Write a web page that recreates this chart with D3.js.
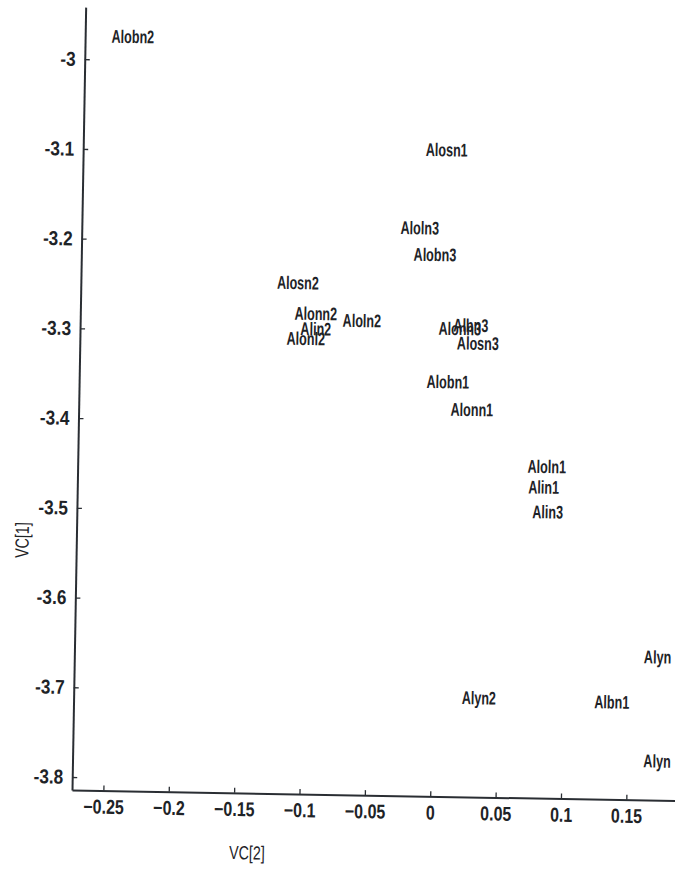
<!DOCTYPE html>
<html>
<head>
<meta charset="utf-8">
<script src="https://cdn.jsdelivr.net/npm/d3@7"></script>
<style>
  html, body { margin: 0; padding: 0; background: #fff; }
  svg text { font-family: "Liberation Sans", Arial, sans-serif; fill: #1e2327; }
</style>
</head>
<body>
<svg id="chart" width="675" height="878"></svg>
<script>
// Sample labels and their coordinates on the first two components
const labels = ["Alobn2", "Alosn1", "Aloln3", "Alobn3", "Alosn2", "Alonn2", "Aloln2", "Alin2", "Alonl2",
                "Alonn3", "Albn3", "Alosn3", "Alobn1", "Alonn1", "Aloln1", "Alin1", "Alin3",
                "Alyn2", "Albn1", "Alyn", "Alyn"];
const vc2 = [-0.2375, 0.004, -0.0155, -0.0036, -0.108, -0.0939, -0.0586, -0.0937, -0.1012,
             0.0164, 0.0248, 0.0304, 0.008, 0.0267, 0.0848, 0.0827, 0.0861,
             0.0359, 0.1376, 0.172, 0.173];
const vc1 = [-2.974, -3.094, -3.1815, -3.211, -3.245, -3.279, -3.286, -3.296, -3.307,
             -3.293, -3.289, -3.309, -3.3525, -3.383, -3.445, -3.468, -3.4955,
             -3.704, -3.706, -3.655, -3.771];

const xTicks = [-0.25, -0.2, -0.15, -0.1, -0.05, 0, 0.05, 0.1, 0.15];
const xTickLabels = ["\u22120.25", "\u22120.2", "\u22120.15", "\u22120.1", "\u22120.05", "0", "0.05", "0.1", "0.15"];
const yTicks = [-3, -3.1, -3.2, -3.3, -3.4, -3.5, -3.6, -3.7, -3.8];
const yTickLabels = ["-3", "-3.1", "-3.2", "-3.3", "-3.4", "-3.5", "-3.6", "-3.7", "-3.8"];

const xTitle = "VC[2]";
const yTitle = "VC[1]";

const svg = d3.select("#chart");
const originX = 72, originY = 790;
const ink = "#1e2327";

// Narrow lettering: squeeze each text horizontally about its own anchor
function condense(sel, sx) {
  sel.each(function () {
    const t = d3.select(this);
    const tx = +t.attr("x") || 0, ty = +t.attr("y") || 0;
    t.attr("x", 0).attr("y", 0)
     .attr("transform", `translate(${tx},${ty}) scale(${sx},1)`);
  });
}

// The whole plot sits slightly tilted, pivoting on the axes corner
const g = svg.append("g").attr("transform", `rotate(1, ${originX}, ${originY})`);

const x = d3.scaleLinear().domain([-0.274, 0.191]).range([originX, 680]);
const y = d3.scaleLinear().domain([-3.8145, -2.942]).range([originY, 7]);

const xAxis = d3.axisBottom(x)
  .tickValues(xTicks)
  .tickFormat((d, i) => xTickLabels[i])
  .tickSizeInner(-5)
  .tickSizeOuter(0)
  .tickPadding(9);

const yAxis = d3.axisLeft(y)
  .tickValues(yTicks)
  .tickFormat((d, i) => yTickLabels[i])
  .tickSizeInner(-5)
  .tickSizeOuter(0)
  .tickPadding(9);

const gx = g.append("g").attr("transform", `translate(0, ${originY})`).call(xAxis);
const gy = g.append("g").attr("transform", `translate(${originX}, 0)`).call(yAxis);

[gx, gy].forEach(ax => {
  ax.attr("font-family", null);
  ax.select(".domain").attr("stroke", "#2a2e33").attr("stroke-width", 2);
  ax.selectAll(".tick line").attr("stroke", "#2a2e33").attr("stroke-width", 1.3);
  ax.selectAll(".tick text")
    .attr("font-size", 20)
    .attr("font-weight", "bold")
    .attr("fill", ink);
});
gx.selectAll(".tick text").call(condense, 0.8);
gy.selectAll(".tick text").call(condense, 0.86);

// Point labels, each centred on its coordinate
g.append("g")
  .selectAll("text")
  .data(labels)
  .join("text")
  .attr("x", (d, i) => x(vc2[i]))
  .attr("y", (d, i) => y(vc1[i]))
  .attr("text-anchor", "middle")
  .attr("dominant-baseline", "central")
  .attr("font-size", 18.5)
  .attr("font-weight", "bold")
  .text(d => d)
  .call(condense, 0.68);

// Axis titles
g.append("text")
  .attr("x", 248)
  .attr("y", 850)
  .attr("text-anchor", "middle")
  .attr("dominant-baseline", "central")
  .attr("font-size", 19)
  .text(xTitle)
  .call(condense, 0.75);

g.append("text")
  .attr("transform", "translate(18, 541) rotate(-90) scale(0.75,1)")
  .attr("text-anchor", "middle")
  .attr("dominant-baseline", "central")
  .attr("font-size", 19)
  .text(yTitle);
</script>
</body>
</html>
